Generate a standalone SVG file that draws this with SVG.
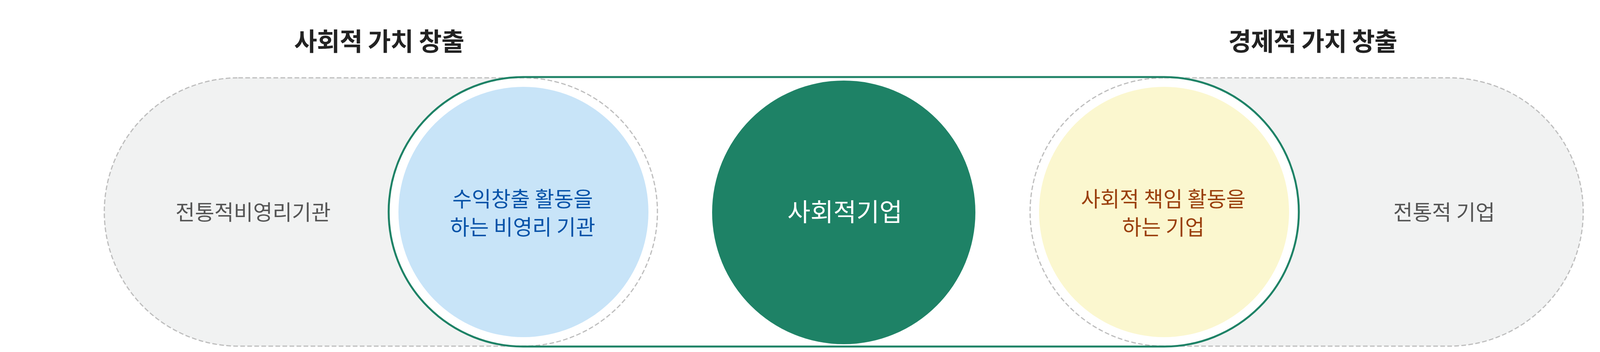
<svg xmlns="http://www.w3.org/2000/svg" width="4320" height="900" viewBox="0 0 4320 900">
  <style>
    text { font-family: "Noto Sans CJK KR", "Noto Sans", sans-serif; text-anchor: middle; }
    .title { font-size: 64px; font-weight: 700; fill: #222222; }
    .label { font-size: 54px; fill: #555555; }
    .blue { font-size: 54px; fill: #0652A8; }
    .brown { font-size: 54px; fill: #9A3F0D; }
    .center { font-size: 64px; fill: #FFFFFF; }
    .pillfill { fill: #F1F2F2; stroke: none; }
    .pilldash { fill: none; stroke: #BDBDBD; stroke-width: 3; stroke-dasharray: 12 6; }
  </style>
  <rect width="4320" height="900" fill="#FFFFFF"/>
  <g id="titles">
    <text class="title" x="971" y="129" textLength="436" lengthAdjust="spacing">사회적 가치 창출</text>
    <text class="title" x="3361" y="129" textLength="433" lengthAdjust="spacing">경제적 가치 창출</text>
  </g>
  <g id="traditional-nonprofit">
    <rect class="pillfill" x="267" y="199" width="1416" height="686" rx="343" ry="343"/>
  </g>
  <g id="traditional-company">
    <rect class="pillfill" x="2637" y="199" width="1416" height="686" rx="343" ry="343"/>
  </g>
  <g id="social-enterprise-frame">
    <rect x="995" y="197" width="2330" height="689" rx="344.5" ry="344.5" fill="#FFFFFF"/>
  </g>
  <g id="outlines">
    <rect class="pilldash" x="267" y="199" width="1416" height="686" rx="343" ry="343"/>
    <rect class="pilldash" x="2637" y="199" width="1416" height="686" rx="343" ry="343"/>
  </g>
  <g id="nonprofit-revenue">
    <circle cx="1340" cy="542" r="320" fill="#C8E4F8"/>
    <text class="blue" x="1338" y="529">수익창출 활동을</text>
    <text class="blue" x="1338" y="601">하는 비영리 기관</text>
  </g>
  <g id="social-enterprise">
    <circle cx="2160" cy="543" r="337" fill="#1E8266"/>
    <text class="center" x="2163" y="565">사회적기업</text>
  </g>
  <g id="csr-company">
    <circle cx="2980" cy="542" r="320" fill="#FBF7CF"/>
    <text class="brown" x="2978" y="529">사회적 책임 활동을</text>
    <text class="brown" x="2978" y="601">하는 기업</text>
  </g>
  <g id="frame-stroke">
    <rect x="995" y="197" width="2330" height="689" rx="344.5" ry="344.5" fill="none" stroke="#1E8266" stroke-width="5"/>
  </g>
  <g id="labels">
    <text class="label" x="648" y="563">전통적비영리기관</text>
    <text class="label" x="3697" y="563">전통적 기업</text>
  </g>
  <g id="connectors"></g>
</svg>
